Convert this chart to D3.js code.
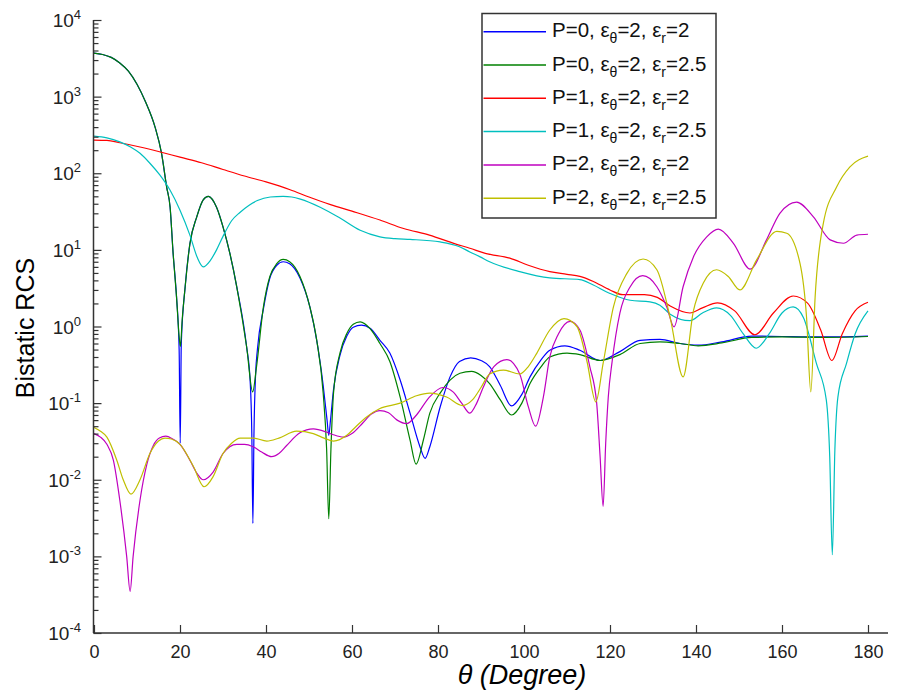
<!DOCTYPE html>
<html><head><meta charset="utf-8">
<script src="https://cdn.jsdelivr.net/npm/d3@7"></script>
<style>
body{margin:0;background:#fff;}
svg{display:block;font-family:"Liberation Sans",Arial,sans-serif;}
</style>
</head><body>
<svg id="chart" width="898" height="693"></svg>
<script>
// ---------------- data ----------------
const xTickValues = [0, 20, 40, 60, 80, 100, 120, 140, 160, 180];
const yTickExponents = [-4, -3, -2, -1, 0, 1, 2, 3, 4];
const xLabel = "θ (Degree)";
const yLabel = "Bistatic RCS";

const legendP = [0, 0, 1, 1, 2, 2];
const legendEpsTheta = [2, 2, 2, 2, 2, 2];
const legendEpsR = [2, 2.5, 2, 2.5, 2, 2.5];
const seriesColors = ["#0000ff", "#008000", "#ff0000", "#00bfbf", "#bf00bf", "#bfbf00"];

// P=0, eps_r=2 (blue)
const thetaP0r2 = [0,2,4,6,8,10,12,14.2,15.7,16.9,17.7,18.4,19.2,19.8,20.05,20.3,21.2,22.3,23.9,25.4,26.6,28.5,30,31.6,33.2,35.5,36.3,36.7,36.95,37.2,37.6,38,39.4,40.9,42.5,44,45.5,47.9,50.2,51.8,53.3,54.2,54.6,55,55.7,57.2,58.8,60.3,62.2,64.2,66.5,68.8,71.2,73.5,75.8,77,78.1,80.5,82.8,85,87.6,90,92,94.5,97.1,99.5,101.4,104,106,109.5,113,117.7,122.3,127,131.6,136.3,140.5,146,153,160,170,180];
const rcsP0r2 = [3700,3550,3250,2750,2150,1450,850,400,183,66,36,9,2.4,0.5,0.03,0.6,3.3,12,27,45,50,36,20,9,3.3,0.54,0.2,0.04,0.0027,0.04,0.25,0.5,1.7,4.3,6.3,7.0,6.6,4.3,1.8,0.66,0.17,0.06,0.038,0.06,0.15,0.42,0.75,0.98,1.04,0.95,0.66,0.45,0.2,0.074,0.027,0.019,0.027,0.089,0.22,0.35,0.39,0.36,0.3,0.17,0.092,0.13,0.22,0.37,0.49,0.56,0.49,0.36,0.47,0.66,0.68,0.6,0.57,0.63,0.75,0.74,0.73,0.75];

// P=0, eps_r=2.5 (green)
const thetaP0r25 = [0,2,4,6,8,10,12,14.2,15.7,16.9,17.7,18.4,19.2,19.8,20.1,20.5,21.2,22.3,23.9,25.4,26.6,28.5,30,31.6,33.2,35.5,36.9,37.8,39.4,40.9,42.5,44,45.5,47.9,50.2,51.8,53.3,54.1,54.6,55.1,55.7,57.2,58.8,60.3,61.9,64.2,66.5,68.8,71.2,73.5,74.9,76.6,78.1,80.5,82.8,85.1,87.8,90,92,94.5,97.1,99.5,101.4,104,106,110,113,117.7,122.3,127,131.6,136.3,140.5,146,153,160,170,180];
const rcsP0r25 = [3700,3550,3250,2750,2150,1450,850,400,183,66,36,9,2.4,0.74,0.55,1.2,3.3,12,27,45,50,36,20,9,3.3,0.54,0.14,0.3,1.8,4.5,6.6,7.5,7.0,4.5,1.8,0.66,0.135,0.025,0.0031,0.025,0.135,0.45,0.81,1.07,1.15,0.94,0.6,0.35,0.12,0.033,0.016,0.033,0.074,0.135,0.2,0.245,0.26,0.23,0.18,0.11,0.07,0.1,0.18,0.3,0.4,0.45,0.43,0.36,0.43,0.6,0.63,0.6,0.56,0.61,0.72,0.73,0.72,0.74];

// P=1, eps_r=2 (red)
const thetaP1r2 = [0,3,6,10.7,15,20,25,30,35,40,45.6,50,55,60,66.5,72,78,84,87.4,91,96.7,101,106,110,113,116,120,123,128,131,134,138.6,141.5,145,149,153.7,158,162.6,166,169,171.6,174,177,180];
const rcsP1r2 = [271,268,250,220,192,162,137,112,92,77,61,49,39,32,24.5,19,15.6,12,10.5,9,7.8,6.3,5.2,4.8,4.5,3.9,3.0,2.6,2.6,2.4,1.85,1.5,1.75,2.04,1.6,0.78,1.5,2.5,2.0,0.9,0.36,0.8,1.6,2.07];

// P=1, eps_r=2.5 (cyan)
const thetaP1r25 = [0,3,6,8.5,10.7,13,15.3,17.7,20,22.3,24,25.4,27,28.5,30,32,34,36,38,41,44,46,48,52.6,57.2,61.9,66.5,70,73.5,80.5,85,87.4,89.8,92,99,106,113,116,120,124.7,129.3,131.6,134,138.6,141.5,144.8,148,151,154,157,160,162.6,165,168,170.3,171.1,171.7,172.3,173,175,177,180];
const rcsP1r25 = [305,290,257,220,182,135,95,60,33,15.6,8,6.0,7.2,10,15,24,31,38,44,49,50,49,46,36,26,18,14.8,14,13.7,12.7,11,9.4,8.1,7.0,5.2,4.3,4.1,3.5,2.7,2.2,2.1,1.9,1.45,1.19,1.5,1.75,1.4,0.8,0.52,0.8,1.5,1.8,1.3,0.33,0.11,0.02,0.00105,0.025,0.12,0.33,0.8,1.6];

// P=2, eps_r=2 (magenta)
const thetaP2r2 = [0,1.5,3,4.5,6,7.6,8.4,9.1,10.7,12.3,13.8,15.2,16.7,18.3,20,22.3,24,25.4,27.7,30,33.2,35,37,39,41.3,43,44.8,47.9,51,54,55.5,58,60,62.5,64.5,66.5,68.5,70.5,72.7,75,78,81.2,83.5,85.5,87.4,89,90.5,93,96,99,101,102.7,104.5,106,108,110.7,113,115.3,116.9,117.7,118.4,119,119.6,120.5,122.3,124.7,127.6,130.9,133.2,134.9,137,139.4,142.5,145.2,148.7,152.6,156.4,159.5,163.4,167.3,171.2,174.3,177.4,180];
const rcsP2r2 = [0.040,0.036,0.029,0.018,0.0054,0.001,0.00035,0.001,0.0054,0.016,0.028,0.035,0.037,0.034,0.029,0.018,0.012,0.010,0.0126,0.022,0.029,0.029,0.027,0.023,0.020,0.022,0.028,0.041,0.046,0.042,0.039,0.036,0.04,0.055,0.072,0.08,0.075,0.06,0.054,0.07,0.12,0.16,0.14,0.1,0.074,0.1,0.16,0.3,0.37,0.24,0.09,0.05,0.12,0.4,0.8,1.17,0.9,0.3,0.1,0.02,0.0045,0.03,0.12,0.35,1.5,3.3,4.6,3.3,1.8,0.99,3.3,8.1,14.8,18.7,12.2,5.6,13.5,30,42,27,13.5,12.2,15.6,16];

// P=2, eps_r=2.5 (yellow)
const thetaP2r25 = [0,1.5,3,5.3,6.8,8.6,10.7,13,15,16.5,18,20,23.1,25.6,27.7,30,32,34,37,40.2,43,47.1,51,53.5,55.7,58.8,61,63.4,66.5,71.2,75,78.1,82,85.7,88,90,92,95.2,99,101,103,106,109.3,112.3,114.6,116.7,118.4,120.8,123.9,127.7,130.9,134,137,139.4,141.7,144.8,147.5,150.2,154.1,158.8,161.1,164.2,165.7,166.7,167.7,169.6,172.7,175.8,180];
const rcsP2r25 = [0.048,0.043,0.036,0.018,0.010,0.0065,0.010,0.022,0.032,0.035,0.034,0.029,0.015,0.0081,0.011,0.022,0.03,0.035,0.035,0.032,0.035,0.043,0.04,0.035,0.032,0.038,0.05,0.066,0.085,0.1,0.125,0.135,0.12,0.093,0.11,0.16,0.24,0.27,0.24,0.3,0.45,0.9,1.27,1.0,0.36,0.104,0.33,1.8,4.9,7.6,5.5,1.3,0.22,1.6,3.7,5.5,4.5,3.0,7.4,17.4,16.5,6.6,1.34,0.14,2.4,22,66,121,167];

const seriesTheta = [thetaP0r2, thetaP0r25, thetaP1r2, thetaP1r25, thetaP2r2, thetaP2r25];
const seriesRcs = [rcsP0r2, rcsP0r25, rcsP1r2, rcsP1r25, rcsP2r2, rcsP2r25];

// ---------------- layout ----------------
const svg = d3.select("#chart");
const x = d3.scaleLinear().domain([0, 180]).range([94, 868]);
const y = d3.scaleLog().domain([1e-4, 1e4]).range([633, 20]);
const axisColor = "#333";

// series
const line = d3.line()
  .x(d => x(d[0]))
  .y(d => y(d[1]))
  .curve(d3.curveMonotoneX);

seriesTheta.forEach((th, i) => {
  const pts = th.map((t, j) => [t, seriesRcs[i][j]]);
  svg.append("path")
    .datum(pts)
    .attr("d", line)
    .attr("fill", "none")
    .attr("stroke", seriesColors[i])
    .attr("stroke-width", 1.2)
    .attr("stroke-linejoin", "round");
});

// x axis
const xAxis = d3.axisBottom(x).tickValues(xTickValues).tickSize(-8).tickPadding(12).tickFormat(d3.format("d"));
const gx = svg.append("g").attr("transform", "translate(0,633)").call(xAxis);
gx.select(".domain").attr("d", "M93.5,0H888").attr("stroke", axisColor).attr("stroke-width", 1.5);
gx.selectAll(".tick line").attr("stroke", axisColor).attr("stroke-width", 1.2);
gx.selectAll(".tick text").attr("fill", "#222").style("font-size", "18px")
  .style("font-family", '"Liberation Sans",Arial,sans-serif').attr("y", 12).attr("dy", "0.71em");

// y axis minor ticks
const minorVals = [];
for (let e = -4; e < 4; e++) for (let m = 2; m <= 9; m++) minorVals.push(m * Math.pow(10, e));
const gyMinor = svg.append("g").attr("transform", "translate(93.5,0)")
  .call(d3.axisLeft(y).tickValues(minorVals).tickSize(-5).tickFormat(""));
gyMinor.select(".domain").remove();
gyMinor.selectAll(".tick line").attr("stroke", axisColor).attr("stroke-width", 1.2);

// y axis major ticks
const majorVals = yTickExponents.map(e => Math.pow(10, e));
const gy = svg.append("g").attr("transform", "translate(93.5,0)")
  .call(d3.axisLeft(y).tickValues(majorVals).tickSize(-8).tickFormat(""));
gy.select(".domain").attr("d", "M0,20V633").attr("stroke", axisColor).attr("stroke-width", 1.5);
gy.selectAll(".tick line").attr("stroke", axisColor).attr("stroke-width", 1.2);

// y tick labels with superscripts
yTickExponents.forEach(e => {
  const t = svg.append("text")
    .attr("x", 81).attr("y", y(Math.pow(10, e)) + 7)
    .attr("text-anchor", "end")
    .attr("fill", "#222")
    .style("font-size", "19px");
  t.append("tspan").text("10");
  t.append("tspan").attr("dy", -8).style("font-size", "13px").text(String(e));
});

// axis labels
svg.append("text")
  .attr("transform", "translate(34,328) rotate(-90)")
  .attr("text-anchor", "middle")
  .attr("fill", "#000")
  .style("font-size", "25px")
  .text(yLabel);

svg.append("text")
  .attr("x", 522).attr("y", 684)
  .attr("text-anchor", "middle")
  .attr("fill", "#000")
  .style("font-size", "27px")
  .style("font-style", "italic")
  .text(xLabel);

// legend
const lg = svg.append("g");
lg.append("rect")
  .attr("x", 482).attr("y", 13.5).attr("width", 234).attr("height", 204.5)
  .attr("fill", "#fff").attr("stroke", "#333").attr("stroke-width", 1.5);
legendP.forEach((p, i) => {
  const cy = 31.7 + i * 33.3;
  lg.append("line")
    .attr("x1", 483.5).attr("x2", 546).attr("y1", cy).attr("y2", cy)
    .attr("stroke", seriesColors[i]).attr("stroke-width", 1.5);
  const t = lg.append("text")
    .attr("x", 552).attr("y", cy + 5.5)
    .attr("fill", "#111")
    .style("font-size", "20.5px");
  t.append("tspan").text(`P=${p}, ε`);
  t.append("tspan").attr("dy", 6).style("font-size", "14px").text("θ");
  t.append("tspan").attr("dy", -6).text(`=${legendEpsTheta[i]}, ε`);
  t.append("tspan").attr("dy", 6).style("font-size", "14px").text("r");
  t.append("tspan").attr("dy", -6).text(`=${legendEpsR[i]}`);
});
</script>
</body></html>
